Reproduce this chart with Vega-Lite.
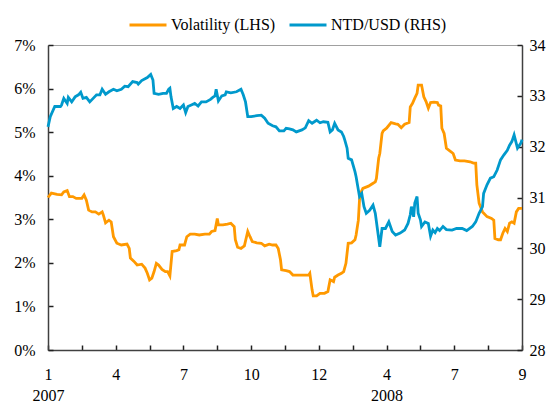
{
  "$schema": "https://vega.github.io/schema/vega-lite/v6.json",
  "autosize": {"type": "none"},
  "padding": {"left": 48, "top": 45, "right": 31, "bottom": 53},
  "width": 474,
  "height": 305,
  "config": {
    "font": "Liberation Serif",
    "view": {"stroke": "#a0a0a0", "strokeWidth": 1},
    "axis": {
      "labelFont": "Liberation Serif",
      "labelFontSize": 16,
      "labelColor": "#000000",
      "domainColor": "#404040",
      "domainWidth": 1.5,
      "ticks": true,
      "tickColor": "#202020",
      "tickWidth": 1.5,
      "tickSize": -5,
      "grid": false,
      "title": null,
      "labelOverlap": false,
      "labelFlush": false,
      "zindex": 2
    },
    "legend": {
      "labelFont": "Liberation Serif",
      "labelFontSize": 16,
      "labelColor": "#000000"
    }
  },
  "datasets": {
    "vol": [
      {"t":0,"v":3.50},{"t":3,"v":3.60},{"t":8,"v":3.57},{"t":12,"v":3.56},{"t":14,"v":3.63},{"t":17,"v":3.66},{"t":19,"v":3.52},{"t":22,"v":3.52},{"t":25,"v":3.48},{"t":30,"v":3.48},
      {"t":32,"v":3.56},{"t":34,"v":3.44},{"t":36,"v":3.21},{"t":39,"v":3.17},{"t":42,"v":3.17},{"t":45,"v":3.12},{"t":48,"v":3.17},{"t":49,"v":3.10},{"t":51,"v":2.92},{"t":54,"v":2.98},
      {"t":56,"v":2.94},{"t":58,"v":2.60},{"t":61,"v":2.45},{"t":65,"v":2.41},{"t":70,"v":2.43},{"t":72,"v":2.33},{"t":73,"v":2.11},{"t":76,"v":2.04},{"t":79,"v":1.95},{"t":83,"v":1.97},
      {"t":86,"v":1.88},{"t":88,"v":1.76},{"t":90,"v":1.61},{"t":92,"v":1.65},{"t":94,"v":1.80},{"t":96,"v":1.99},{"t":98,"v":1.95},{"t":101,"v":1.85},{"t":104,"v":1.80},{"t":106,"v":1.80},
      {"t":108,"v":1.70},{"t":110,"v":2.26},{"t":114,"v":2.28},{"t":116,"v":2.30},{"t":117,"v":2.41},{"t":121,"v":2.41},{"t":123,"v":2.60},{"t":126,"v":2.66},{"t":130,"v":2.66},{"t":134,"v":2.64},
      {"t":139,"v":2.66},{"t":143,"v":2.66},{"t":145,"v":2.72},{"t":148,"v":2.74},{"t":150,"v":3.02},{"t":151,"v":2.87},{"t":155,"v":2.87},{"t":159,"v":2.89},{"t":162,"v":2.91},{"t":165,"v":2.83},
      {"t":166,"v":2.53},{"t":168,"v":2.36},{"t":171,"v":2.33},{"t":174,"v":2.39},{"t":177,"v":2.72},{"t":179,"v":2.60},{"t":181,"v":2.49},{"t":185,"v":2.46},{"t":189,"v":2.45},{"t":192,"v":2.39},
      {"t":196,"v":2.43},{"t":199,"v":2.41},{"t":202,"v":2.41},{"t":204,"v":2.33},{"t":206,"v":2.07},{"t":207,"v":1.84},{"t":211,"v":1.82},{"t":214,"v":1.80},{"t":217,"v":1.72},{"t":222,"v":1.72},
      {"t":226,"v":1.72},{"t":231,"v":1.72},{"t":232,"v":1.76},{"t":234,"v":1.38},{"t":235,"v":1.24},{"t":238,"v":1.24},{"t":241,"v":1.30},{"t":245,"v":1.30},{"t":248,"v":1.34},{"t":250,"v":1.61},
      {"t":253,"v":1.57},{"t":254,"v":1.67},{"t":257,"v":1.72},{"t":260,"v":1.76},{"t":262,"v":1.80},{"t":264,"v":1.99},{"t":266,"v":2.45},{"t":269,"v":2.46},{"t":272,"v":2.53},{"t":273,"v":2.64},
      {"t":275,"v":2.98},{"t":276,"v":3.44},{"t":277,"v":3.60},{"t":279,"v":3.71},{"t":284,"v":3.76},{"t":287,"v":3.81},{"t":290,"v":3.86},{"t":291,"v":3.94},{"t":293,"v":4.40},{"t":294,"v":4.51},
      {"t":296,"v":4.97},{"t":297,"v":5.03},{"t":300,"v":5.09},{"t":304,"v":5.22},{"t":308,"v":5.19},{"t":310,"v":5.18},{"t":313,"v":5.10},{"t":316,"v":5.18},{"t":320,"v":5.22},{"t":321,"v":5.58},
      {"t":323,"v":5.66},{"t":325,"v":5.78},{"t":327,"v":5.89},{"t":328,"v":6.08},{"t":331,"v":6.08},{"t":333,"v":5.81},{"t":335,"v":5.70},{"t":337,"v":5.55},{"t":339,"v":5.68},{"t":342,"v":5.69},
      {"t":345,"v":5.68},{"t":346,"v":5.62},{"t":348,"v":5.60},{"t":349,"v":5.09},{"t":351,"v":4.97},{"t":353,"v":4.63},{"t":356,"v":4.57},{"t":359,"v":4.51},{"t":361,"v":4.36},{"t":365,"v":4.34},
      {"t":369,"v":4.34},{"t":374,"v":4.32},{"t":377,"v":4.29},{"t":379,"v":4.29},{"t":380,"v":3.79},{"t":382,"v":3.37},{"t":385,"v":3.17},{"t":389,"v":3.06},{"t":393,"v":3.02},{"t":395,"v":2.98},
      {"t":396,"v":2.56},{"t":399,"v":2.53},{"t":401,"v":2.53},{"t":403,"v":2.68},{"t":405,"v":2.79},{"t":407,"v":2.72},{"t":409,"v":2.91},{"t":411,"v":2.94},{"t":413,"v":2.91},{"t":415,"v":3.17},
      {"t":417,"v":3.25},{"t":420,"v":3.25}
    ],
    "fx": [
      {"t":0,"v":32.39},{"t":2,"v":32.59},{"t":6,"v":32.79},{"t":11,"v":32.79},{"t":12,"v":32.82},{"t":14,"v":32.95},{"t":17,"v":32.85},{"t":18,"v":32.97},{"t":21,"v":32.88},{"t":24,"v":32.98},
      {"t":27,"v":33.02},{"t":29,"v":33.07},{"t":31,"v":32.95},{"t":34,"v":32.97},{"t":37,"v":32.88},{"t":40,"v":32.95},{"t":43,"v":33.02},{"t":46,"v":33.02},{"t":48,"v":33.13},{"t":51,"v":33.03},
      {"t":54,"v":33.08},{"t":58,"v":33.13},{"t":61,"v":33.10},{"t":65,"v":33.13},{"t":68,"v":33.19},{"t":71,"v":33.18},{"t":75,"v":33.28},{"t":79,"v":33.26},{"t":80,"v":33.23},{"t":83,"v":33.30},
      {"t":88,"v":33.36},{"t":91,"v":33.42},{"t":93,"v":33.31},{"t":94,"v":33.05},{"t":98,"v":33.03},{"t":102,"v":33.05},{"t":105,"v":33.05},{"t":107,"v":33.13},{"t":108,"v":33.15},{"t":109,"v":32.98},
      {"t":111,"v":32.75},{"t":114,"v":32.79},{"t":117,"v":32.75},{"t":120,"v":32.82},{"t":122,"v":32.67},{"t":124,"v":32.79},{"t":127,"v":32.82},{"t":130,"v":32.85},{"t":133,"v":32.80},{"t":136,"v":32.88},
      {"t":140,"v":32.88},{"t":144,"v":32.93},{"t":146,"v":32.97},{"t":148,"v":33.00},{"t":149,"v":33.13},{"t":151,"v":32.90},{"t":154,"v":33.00},{"t":157,"v":33.02},{"t":158,"v":33.08},{"t":162,"v":33.06},
      {"t":167,"v":33.08},{"t":171,"v":33.13},{"t":173,"v":33.02},{"t":175,"v":32.88},{"t":177,"v":32.59},{"t":180,"v":32.59},{"t":185,"v":32.61},{"t":189,"v":32.62},{"t":192,"v":32.56},{"t":195,"v":32.46},
      {"t":199,"v":32.41},{"t":202,"v":32.39},{"t":205,"v":32.31},{"t":209,"v":32.31},{"t":211,"v":32.36},{"t":214,"v":32.35},{"t":217,"v":32.33},{"t":220,"v":32.29},{"t":225,"v":32.33},{"t":228,"v":32.37},
      {"t":231,"v":32.51},{"t":234,"v":32.46},{"t":238,"v":32.52},{"t":241,"v":32.47},{"t":244,"v":32.49},{"t":248,"v":32.48},{"t":250,"v":32.29},{"t":252,"v":32.33},{"t":254,"v":32.46},{"t":257,"v":32.33},
      {"t":260,"v":32.29},{"t":262,"v":32.20},{"t":263,"v":32.13},{"t":265,"v":31.97},{"t":266,"v":31.77},{"t":269,"v":31.74},{"t":272,"v":31.51},{"t":273,"v":31.41},{"t":275,"v":31.15},{"t":276,"v":31.02},
      {"t":278,"v":31.08},{"t":280,"v":30.82},{"t":282,"v":30.69},{"t":285,"v":30.75},{"t":288,"v":30.85},{"t":290,"v":30.69},{"t":292,"v":30.36},{"t":294,"v":30.03},{"t":296,"v":30.39},{"t":299,"v":30.39},
      {"t":302,"v":30.52},{"t":305,"v":30.33},{"t":308,"v":30.26},{"t":312,"v":30.30},{"t":316,"v":30.36},{"t":319,"v":30.49},{"t":321,"v":30.66},{"t":322,"v":30.82},{"t":324,"v":30.62},{"t":325,"v":30.89},
      {"t":327,"v":31.02},{"t":328,"v":30.69},{"t":330,"v":30.56},{"t":331,"v":30.43},{"t":334,"v":30.52},{"t":337,"v":30.49},{"t":339,"v":30.24},{"t":341,"v":30.36},{"t":343,"v":30.31},{"t":345,"v":30.39},
      {"t":347,"v":30.35},{"t":350,"v":30.43},{"t":353,"v":30.37},{"t":358,"v":30.36},{"t":362,"v":30.39},{"t":367,"v":30.39},{"t":371,"v":30.35},{"t":376,"v":30.43},{"t":379,"v":30.52},{"t":382,"v":30.69},
      {"t":385,"v":30.82},{"t":386,"v":31.08},{"t":389,"v":31.25},{"t":392,"v":31.38},{"t":395,"v":31.41},{"t":398,"v":31.54},{"t":401,"v":31.74},{"t":404,"v":31.84},{"t":407,"v":31.93},{"t":409,"v":32.03},
      {"t":411,"v":32.10},{"t":413,"v":32.23},{"t":416,"v":31.97},{"t":419,"v":32.07},{"t":420,"v":32.14}
    ]
  },
  "encoding": {
    "x": {
      "field": "t",
      "type": "quantitative",
      "scale": {"domain": [0, 420], "nice": false, "zero": false},
      "axis": {
        "values": [0,30,60,90,120,150,180,210,240,270,300,330,360,390,420],
        "labelPadding": 21,
        "labelLineHeight": 21,
        "labelAlign": "center",
        "labelBaseline": "top",
        "labelExpr": "datum.value == 0 ? ['1', '2007'] : datum.value == 60 ? '4' : datum.value == 120 ? '7' : datum.value == 180 ? '10' : datum.value == 240 ? '12' : datum.value == 300 ? ['4', '2008'] : datum.value == 360 ? '7' : datum.value == 420 ? '9' : ''"
      }
    }
  },
  "layer": [
    {
      "data": {"name": "vol"},
      "mark": {"type": "line", "strokeWidth": 2.8, "interpolate": "linear"},
      "encoding": {
        "y": {
          "field": "v",
          "type": "quantitative",
          "scale": {"domain": [0, 7], "nice": false},
          "axis": {
            "orient": "left",
            "values": [0,1,2,3,4,5,6,7],
            "labelPadding": 18,
            "labelExpr": "datum.value + '%'"
          }
        },
        "color": {
          "datum": "Volatility (LHS)",
          "type": "nominal",
          "scale": {"domain": ["Volatility (LHS)", "NTD/USD (RHS)"], "range": ["#FF9900", "#0099CC"]},
          "legend": {
            "title": null,
            "orient": "none",
            "direction": "horizontal",
            "legendX": 80,
            "legendY": -40,
            "symbolType": "stroke",
            "symbolSize": 1369,
            "symbolStrokeWidth": 3,
            "labelOffset": 3,
            "columnPadding": 7,
            "labelFont": "Liberation Serif",
            "labelFontSize": 16,
            "labelColor": "#000000"
          }
        }
      }
    },
    {
      "data": {"name": "fx"},
      "mark": {"type": "line", "strokeWidth": 2.8, "interpolate": "linear"},
      "encoding": {
        "y": {
          "field": "v",
          "type": "quantitative",
          "scale": {"domain": [28, 34], "nice": false, "zero": false},
          "axis": {
            "orient": "right",
            "values": [28,29,30,31,32,33,34],
            "labelPadding": 12
          }
        },
        "color": {"datum": "NTD/USD (RHS)", "type": "nominal"}
      }
    }
  ],
  "resolve": {"scale": {"y": "independent"}}
}
